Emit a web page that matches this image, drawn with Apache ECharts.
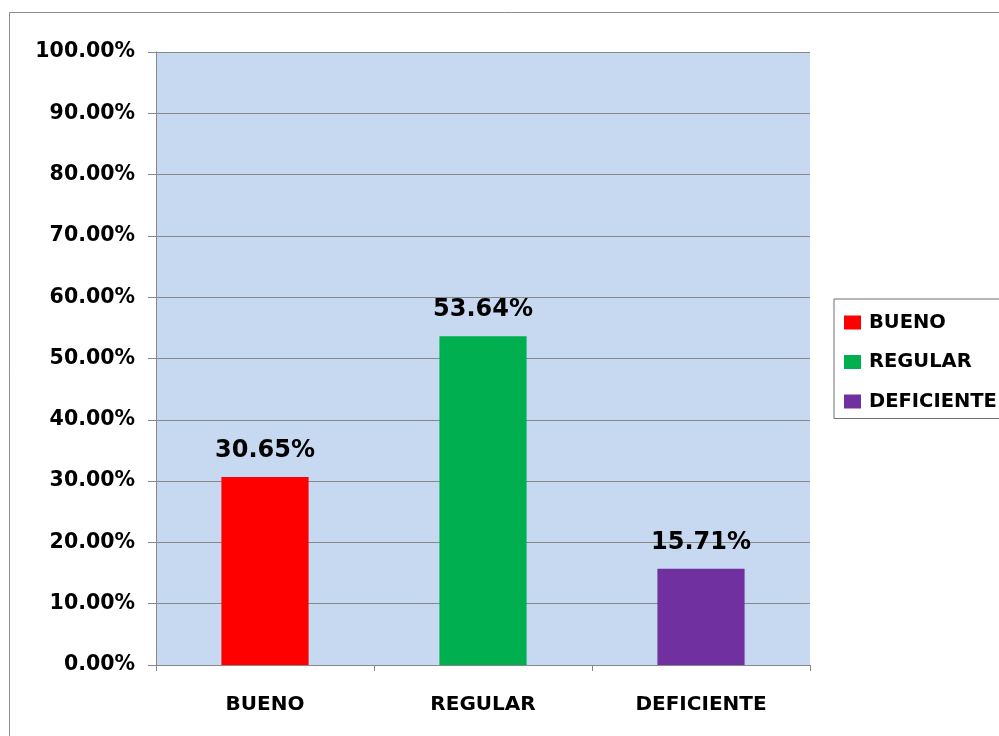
<!DOCTYPE html>
<html>
<head>
<meta charset="utf-8">
<script src="https://cdn.jsdelivr.net/npm/echarts@6/dist/echarts.min.js"></script>
<style>html,body{margin:0;padding:0;background:#fff}#c{width:999px;height:736px}</style>
</head>
<body>
<div id="c"></div>
<script>
const categories = ['BUENO', 'REGULAR', 'DEFICIENTE'];
const values = [30.65, 53.64, 15.71];
const colors = ['#FF0000', '#00B050', '#7030A0'];
const yTicks = [0, 10, 20, 30, 40, 50, 60, 70, 80, 90, 100];

const FONT = 'DejaVu Sans';
const chart = echarts.init(document.getElementById('c'));
const series = categories.map((name, i) => ({
  name: name,
  type: 'bar',
  stack: 'all',
  barWidth: '40%',
  data: categories.map((c, j) => (j === i ? values[i] : '-')),
  itemStyle: { color: colors[i] },
  label: {
    show: true,
    position: 'top',
    distance: 14,
    formatter: p => p.value.toFixed(2) + '%',
    fontFamily: FONT,
    fontWeight: 'bold',
    fontSize: 24,
    color: '#000'
  }
}));
chart.setOption({
  animation: false,
  backgroundColor: '#fff',
  graphic: [{
    type: 'rect',
    shape: { x: 9.5, y: 12.5, width: 1100, height: 800 },
    style: { fill: 'none', stroke: '#8c8c8c', lineWidth: 1 },
    silent: true
  }],
  grid: {
    left: 156, right: 189, top: 52, bottom: 71,
    show: true, backgroundColor: '#C6D9F0', borderWidth: 0
  },
  legend: {
    orient: 'vertical',
    left: 834, top: 299,
    padding: [13.5, 40, 7, 10],
    itemWidth: 17, itemHeight: 14, itemGap: 19.5,
    borderColor: '#6f6f6f', borderWidth: 1,
    icon: 'rect',
    textStyle: { fontFamily: FONT, fontWeight: 'bold', fontSize: 19.5, lineHeight: 20, color: '#000', padding: [0, 0, 0, 3] },
    data: categories
  },
  xAxis: {
    type: 'category',
    data: categories,
    axisLine: { lineStyle: { color: '#888' } },
    axisTick: { show: true, alignWithLabel: false, length: 6, lineStyle: { color: '#888' } },
    axisLabel: { margin: 30, fontFamily: FONT, fontWeight: 'bold', fontSize: 20, color: '#000' }
  },
  yAxis: {
    type: 'value',
    min: 0, max: 100, interval: 10,
    axisLine: { show: true, lineStyle: { color: '#888' } },
    axisTick: { show: true, length: 8, lineStyle: { color: '#888' } },
    splitLine: { lineStyle: { color: '#888', width: 1 } },
    axisLabel: {
      margin: 21,
      fontFamily: FONT, fontWeight: 'bold', fontSize: 20.5, color: '#000',
      formatter: v => yTicks.includes(v) ? v.toFixed(2) + '%' : ''
    }
  },
  series: series
});
</script>
</body>
</html>
